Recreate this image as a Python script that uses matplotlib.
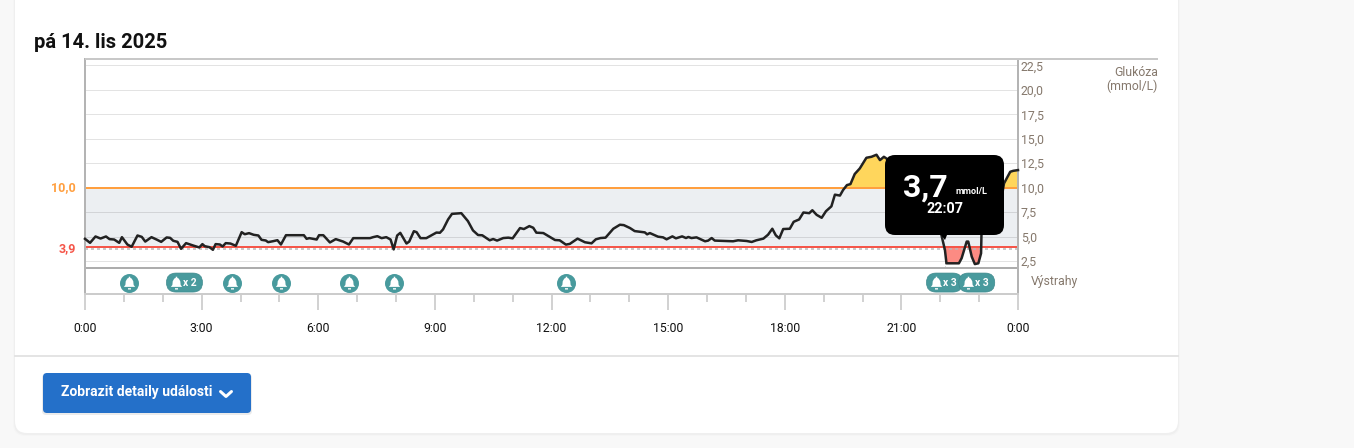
import matplotlib
matplotlib.use('Agg')
import matplotlib.pyplot as plt
from matplotlib.patches import FancyBboxPatch, Polygon
from matplotlib.path import Path
import numpy as np

plt.rcParams['font.family'] = ['Roboto', 'DejaVu Sans']

# glucose trace (hours, mmol/L)
hours = [0, .13, .27, .40, .54, .63, .75, .88, .95, 1.09, 1.2, 1.35, 1.46, 1.55, 1.71, 1.84, 1.96, 2.1, 2.19, 2.27,
         2.38, 2.47, 2.6, 2.78, 2.94, 3.02, 3.08, 3.2, 3.29, 3.36, 3.47, 3.54, 3.62, 3.74, 3.88, 4.03, 4.11, 4.22,
         4.34, 4.46, 4.54, 4.65, 4.71, 4.84, 4.95, 5.04, 5.17, 5.63, 5.7, 5.77, 5.96, 6.02, 6.13, 6.3, 6.45, 6.64,
         6.79, 6.9, 7.33, 7.41, 7.52, 7.63, 7.75, 7.86, 7.94, 8.03, 8.11, 8.27, 8.34, 8.46, 8.53, 8.63, 8.78, 8.95,
         9.04, 9.13, 9.21, 9.34, 9.44, 9.68, 9.85, 9.98, 10.11, 10.22, 10.41, 10.5, 10.6, 10.76, 10.89, 11.0, 11.19,
         11.29, 11.43, 11.53, 11.61, 11.79, 11.96, 12.09, 12.21, 12.37, 12.47, 12.67, 12.86, 13.03, 13.14, 13.26,
         13.39, 13.59, 13.76, 13.86, 14.02, 14.14, 14.27, 14.4, 14.46, 14.53, 14.74, 14.87, 14.96, 15.11, 15.2,
         15.36, 15.46, 15.52, 15.6, 15.73, 15.95, 16.03, 16.12, 16.2, 16.67, 16.8, 17.02, 17.15, 17.27, 17.45, 17.57,
         17.68, 17.77, 17.86, 17.96, 18.13, 18.23, 18.37, 18.48, 18.63, 18.71, 18.82, 18.95, 19.06, 19.2, 19.29,
         19.42, 19.5, 19.6, 19.69, 19.8, 19.93, 20.1, 20.23, 20.36, 20.45, 20.55, 20.8, 21.2, 21.6, 21.9, 22.03,
         22.12, 22.16, 22.48, 22.55, 22.68, 22.72, 22.81, 22.89, 22.98, 23.05, 23.06, 23.1, 23.4, 23.6, 23.64, 23.8,
         23.88, 24]
glucose = [4.78, 4.37, 5.02, 4.81, 5.02, 4.75, 4.71, 4.37, 4.95, 4.2, 3.97, 5.12, 4.98, 4.5, 4.95, 4.71, 4.47, 4.92,
           4.88, 4.58, 4.47, 3.76, 4.34, 4.1, 3.9, 4.24, 4.03, 3.93, 3.66, 4.24, 4.2, 4.0, 4.34, 4.3, 4.07, 5.46, 5.25,
           5.36, 5.19, 5.12, 4.68, 4.61, 4.44, 4.54, 4.64, 4.2, 5.15, 5.15, 4.78, 4.85, 4.71, 5.15, 5.15, 4.41, 4.75,
           4.5, 4.2, 4.85, 4.85, 4.95, 5.05, 4.85, 4.95, 4.71, 3.7, 5.12, 5.39, 4.3, 4.5, 5.56, 5.46, 4.85, 4.85, 5.22,
           5.42, 5.4, 5.74, 6.76, 7.33, 7.4, 6.59, 5.64, 5.17, 5.14, 4.63, 4.76, 4.6, 4.86, 4.9, 4.83, 5.88, 5.78, 6.08,
           5.91, 5.41, 5.37, 4.97, 4.66, 4.63, 4.19, 4.26, 4.8, 4.43, 4.32, 4.73, 4.86, 4.9, 5.81, 6.22, 6.18, 5.88,
           5.57, 5.5, 5.44, 5.24, 5.37, 5.0, 4.93, 4.73, 5.03, 4.83, 5.03, 4.86, 4.97, 4.86, 4.93, 4.53, 4.6, 4.86, 4.6,
           4.53, 4.63, 4.56, 4.46, 4.63, 4.8, 5.2, 5.81, 5.14, 4.83, 5.78, 5.81, 6.52, 6.76, 7.47, 7.4, 7.7, 7.23, 6.93,
           7.6, 8.1, 9.29, 9.2, 9.76, 10.27, 10.37, 11.4, 11.97, 13.06, 13.16, 13.37, 12.82, 13.16, 12.5, 11.8, 9.5, 6.5,
           5.17, 3.65, 2.28, 2.28, 2.8, 4.5, 4.5, 2.96, 2.2, 2.28, 3.3, 5.17, 7.0, 8.5, 9.5, 10.44, 11.63, 11.73, 11.8]

high_limit = 10.0
low_limit = 3.9
low_dash = 3.75
y_ticks = [2.5, 5, 7.5, 10, 12.5, 15, 17.5, 20, 22.5]
y_tick_labels = ['2,5', '5,0', '7,5', '10,0', '12,5', '15,0', '17,5', '20,0', '22,5']
x_ticks = [0, 3, 6, 9, 12, 15, 18, 21, 24]
x_tick_labels = ['0:00', '3:00', '6:00', '9:00', '12:00', '15:00', '18:00', '21:00', '0:00']
alert_hours = [1.13, 2.34, 3.78, 5.04, 6.79, 7.95, 12.37, 21.89, 22.72]
alert_counts = [1, 2, 1, 1, 1, 1, 1, 3, 3]

W, H = 1354, 448
TEAL = '#489a9d'
TICK_GREY = '#85786c'
PX = 0.72  # one pixel in points at dpi 100


def axes_px(left, top, right, bottom, **kw):
    return fig.add_axes([left / W, 1 - bottom / H, (right - left) / W, (bottom - top) / H], **kw)


fig = plt.figure(figsize=(W / 100, H / 100), dpi=100, facecolor='#f8f8f8')

# page card behind everything
bg = axes_px(0, 0, W, H, zorder=0)
bg.set_xlim(0, W)
bg.set_ylim(H, 0)
bg.axis('off')
for grow, alpha in [(2, .012), (1, .025)]:
    bg.add_patch(FancyBboxPatch((15 - grow, -20), 1163 + 2 * grow, 453 + grow + 1,
                                boxstyle='round,pad=0,rounding_size=12', fc='#000000', ec='none', alpha=alpha))
bg.add_patch(FancyBboxPatch((15, -20), 1163, 453, boxstyle='round,pad=0,rounding_size=12', fc='white', ec='none'))
bg.plot([15, 1178], [356, 356], color='#e4e4e4', lw=2 * PX)
bg.text(34, 42.5, 'pá 14. lis 2025', fontsize=14.5, fontweight='bold', color='#111111', va='center')

# glucose axes
ax = axes_px(85, 59, 1018, 268, zorder=1, facecolor='none')
hrs = np.array(hours)
gl = np.array(glucose)
ax.axhspan(low_limit, high_limit, color='#eceff2', lw=0, zorder=1)
ax.fill_between(hrs, gl, high_limit, where=gl > high_limit, interpolate=True, color='#ffd65c', lw=0, zorder=2)
ax.fill_between(hrs, gl, low_limit, where=(gl < low_limit) & (hrs > 22), interpolate=True, color='#fc8b83', lw=0, zorder=2)
ax.axhline(low_dash, color='#b8b8b8', lw=1.5 * PX, ls=(0, (2, 2)), zorder=2.2)
ax.axhline(high_limit, color='#ff9f3f', lw=2 * PX, zorder=2.5)
ax.axhline(low_limit, color='#f5564a', lw=2 * PX, zorder=2.5)
ax.axvline(22.12, ymax=0.1, color='#b8b8b8', lw=PX, ls=(0, (2, 2)), zorder=2.2)
ax.plot(hrs, gl, color='#222222', lw=2.5 * PX, solid_joinstyle='round', zorder=3, clip_on=False)
ax.set_xlim(0, 24)
ax.set_ylim(1.8, 23.15)
ax.set_xticks([])
ax.set_yticks(y_ticks, y_tick_labels)
ax.grid(axis='y', color='#000000', alpha=.11, lw=1 * PX)
ax.set_axisbelow('line')
ax.yaxis.tick_right()
ax.tick_params(axis='y', length=0, pad=2, labelsize=8.8, labelcolor=TICK_GREY)
ax.spines['left'].set(color='#b4b4b4', lw=2 * PX)
ax.spines['right'].set(color='#b4b4b4', lw=2 * PX)
ax.spines['top'].set_visible(False)
ax.spines['bottom'].set(color='#adadad', lw=2 * PX)

# alerts strip with the time axis
ax2 = axes_px(85, 268, 1018, 294, zorder=1, facecolor='none')
ax2.set_xlim(0, 24)
ax2.set_ylim(0, 1)
ax2.set_yticks([])
ax2.set_xticks(x_ticks, x_tick_labels)
ax2.set_xticks(range(25), minor=True)
ax2.tick_params(axis='x', which='major', length=16 * PX, width=2 * PX, color='#d2d2d2', pad=9,
                labelsize=8.8, labelcolor='#111111')
ax2.tick_params(axis='x', which='minor', length=8 * PX, width=2 * PX, color='#d2d2d2')
for side in ['left', 'right']:
    ax2.spines[side].set(color='#b4b4b4', lw=2 * PX)
ax2.spines['top'].set_visible(False)
ax2.spines['bottom'].set(color='#cccccc', lw=2 * PX)

# overlay in pixel coordinates
top = axes_px(0, 0, W, H, zorder=3, facecolor='none')
top.set_xlim(0, W)
top.set_ylim(H, 0)
top.axis('off')
top.plot([85, 1158], [59, 59], color='#c8c8c8', lw=2 * PX, solid_capstyle='butt')

bell = Path([(-.75, -.45), (-.55, -.2), (-.5, .3), (-.3, .65), (-.1, .75), (-.1, .9), (.1, .9), (.1, .75), (.3, .65),
             (.5, .3), (.55, -.2), (.75, -.45), (-.75, -.45),
             (-.2, -.62), (.2, -.62), (.2, -.8), (-.2, -.8), (-.2, -.62)],
            [Path.MOVETO] + [Path.LINETO] * 11 + [Path.CLOSEPOLY] + [Path.MOVETO] + [Path.LINETO] * 3 + [Path.CLOSEPOLY])
for h, n in zip(alert_hours, alert_counts):
    cx, cy = top.transData.inverted().transform(ax2.transData.transform((h, .44)))
    if n == 1:
        top.scatter([cx], [cy], s=187, color=TEAL, lw=0, zorder=5)
    else:
        top.add_patch(FancyBboxPatch((cx - 9.5, cy - 9.5), 36, 19, boxstyle='round,pad=0,rounding_size=9.5',
                                     fc=TEAL, ec='#3f8a8d', lw=.5, zorder=5))
        top.text(cx + 14, cy + .3, f'x {n}', color='white', fontsize=7.4, fontweight='bold',
                 ha='center', va='center', zorder=6)
    top.scatter([cx], [cy], s=95, marker=bell, color='white', lw=0, zorder=6)

# threshold and axis captions
top.text(76, 188, '10,0', color='#ff9f3f', fontsize=9, fontweight='bold', ha='right', va='center')
top.text(76, 248.5, '3,9', color='#f5564a', fontsize=9, fontweight='bold', ha='right', va='center')
top.text(1158, 72, 'Glukóza', color=TICK_GREY, fontsize=8.8, ha='right', va='center')
top.text(1158, 86, '(mmol/L)', color=TICK_GREY, fontsize=8.8, ha='right', va='center')
top.text(1031, 282, 'Výstrahy', color=TICK_GREY, fontsize=8.8, va='center')

# tooltip
top.add_patch(FancyBboxPatch((885, 155), 119, 80, boxstyle='round,pad=0,rounding_size=10', fc='black', ec='none', zorder=7))
top.add_patch(Polygon([(941, 235), (947, 235), (945, 240)], fc='black', ec='none', zorder=7))
top.text(903, 187.5, '3,7', color='white', fontsize=23, fontweight='bold', va='center', zorder=8)
top.text(955, 191, 'mmol/L', color='white', fontsize=6.6, fontweight='bold', va='center', zorder=8)
top.text(945, 209, '22:07', color='white', fontsize=10.4, fontweight='bold', ha='center', va='center', zorder=8)

# button
top.add_patch(FancyBboxPatch((42, 374), 210, 41, boxstyle='round,pad=0,rounding_size=4',
                             fc='black', ec='none', alpha=.08))
top.add_patch(FancyBboxPatch((43, 373), 208, 40, boxstyle='round,pad=0,rounding_size=4', fc='#2470c9', ec='none'))
top.text(61, 392, 'Zobrazit detaily události', color='white', fontsize=10, fontweight='bold', va='center')
top.plot([220.5, 226, 231.5], [391.5, 396.5, 391.5], color='white', lw=3 * PX, solid_capstyle='round')

fig.savefig('out.png', dpi=100, facecolor=fig.get_facecolor())
